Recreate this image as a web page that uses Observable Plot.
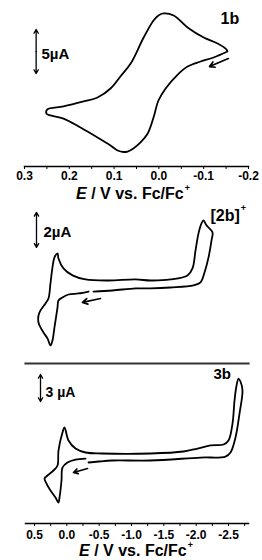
<!DOCTYPE html>
<html><head><meta charset="utf-8">
<script src="https://cdn.jsdelivr.net/npm/d3@7"></script>
<script src="https://cdn.jsdelivr.net/npm/@observablehq/plot@0.6"></script>
<style>
body{margin:0;background:#fff;}
#wrap{position:relative;width:262px;height:560px;overflow:hidden;font-family:"Liberation Sans",Arial,sans-serif;color:#000;}
.panel{position:absolute;left:0;}
.xt{position:absolute;font-weight:bold;font-size:16px;line-height:16px;white-space:nowrap;transform:translateX(-50%);}
.xt i{font-style:italic;}
.xt .sp{font-size:9px;position:relative;top:-8px;margin-left:1px;}
</style>
</head><body>
<div id="wrap"></div>
<script>
// ---- Panel 1 (1b) : E / V, I / µA ----
const E1 = [-0.153,-0.122,-0.093,-0.064,-0.042,-0.015,0.001,0.012,0.025,0.041,0.057,0.070,0.079,0.092,0.108,0.137,0.175,0.213,0.242,0.251,0.249,0.213,0.168,0.137,0.108,0.086,0.063,0.034,0.012,0.001,-0.010,-0.033,-0.064,-0.100,-0.131,-0.151,-0.153];
const I1 = [5.57,4.89,4.43,3.86,2.95,1.36,0,-1.93,-3.75,-4.77,-5.45,-5.80,-5.85,-5.68,-5.11,-4.20,-3.07,-2.05,-1.70,-1.48,-1.02,-0.68,-0.11,0.34,1.36,2.73,4.20,7.16,9.09,9.66,9.89,9.66,8.30,7.16,6.48,5.80,5.57];
// ---- Panel 2 ([2b]+) ----
const E2 = [-0.412,-0.706,-1.062,-1.294,-1.603,-1.959,-2.067,-2.129,-2.191,-2.237,-2.252,-2.160,-2.113,-2.082,-2.036,-1.990,-1.943,-1.866,-1.603,-1.294,-1.062,-0.644,-0.289,-0.088,0.052,0.129,0.144,0.191,0.222,0.253,0.284,0.330,0.407,0.438,0.438,0.407,0.361,0.299,0.253,0.222,0.191,0.144,0.129,0.067,-0.026,-0.180,-0.335];
const I2 = [0.51,0.57,0.69,0.69,0.74,0.86,1.03,1.60,2.46,3.43,3.89,4.29,4.57,4.40,3.83,2.86,1.83,1.43,1.20,1.14,1.20,1.14,1.20,1.43,1.83,2.40,2.69,2.46,1.89,0.97,0.11,-0.17,-0.57,-0.86,-1.26,-1.54,-1.83,-2.17,-2.57,-2.29,-1.54,-0.40,0,0.17,0.34,0.40,0.51];
// ---- Panel 3 (3b) ----
const E3 = [-0.335,-0.490,-0.706,-1.294,-2.067,-2.453,-2.531,-2.608,-2.670,-2.716,-2.685,-2.655,-2.624,-2.593,-2.562,-2.500,-2.423,-2.222,-2.020,-1.804,-1.294,-0.551,-0.289,-0.134,-0.026,0.036,0.067,0.129,0.144,0.206,0.299,0.345,0.314,0.253,0.175,0.129,0.113,0.082,0.067,-0.010,-0.134,-0.289];
const I3 = [-0.22,-0.11,0,0,0.33,0.44,0.89,2.56,5.22,7.78,8.78,9.11,8.33,6.67,4.11,2.22,1.78,1.67,1.33,1.0,0.78,0.78,0.89,1.33,2.22,3.67,3.11,1.11,-0.56,-1.11,-1.67,-2.0,-2.56,-3.33,-4.11,-4.67,-4.11,-2.22,-0.78,-0.22,0.11,0.22];

// tick values
const ticks1 = [0.3,0.2,0.1,0.0,-0.1,-0.2];
const minor1 = [0.25,0.15,0.05,-0.05,-0.15];
const ticks3 = [0.5,0.0,-0.5,-1.0,-1.5,-2.0,-2.5];
const minor3 = [0.25,-0.25,-0.75,-1.25,-1.75,-2.25,-2.75];

// scan-direction arrows [E tail, I tail, E head, I head]
const dir1 = [-0.155,4.77,-0.113,3.86];
const dir2 = [-0.521,0.11,-0.242,-0.11];
const dir3 = [-0.320,-0.89,-0.103,-1.33];
// current scale bars [E, I low, I high]
const bar1 = [0.274,3.07,8.07];
const bar2 = [0.469,3.03,5.03];
const bar3 = [0.407,6.56,9.56];
// labels
const lab1 = [{x:0.262,y:5.23,t:"5µA",s:15},{x:-0.1375,y:9.32,t:"1b",s:16}];
const lab2 = [{x:0.361,y:3.89,t:"2µA",s:15},{x:-2.222,y:4.86,t:"[2b]",s:16},{x:-2.69,y:5.25,t:"+",s:9}];
const lab3 = [{x:0.330,y:7.56,t:"3 µA",s:14},{x:-2.268,y:9.56,t:"3b",s:15}];

const FONT = '"Liberation Sans", Arial, sans-serif';
const toRows = (E, I) => E.map((e, i) => ({E: e, I: I[i]}));

function cvMarks(rows, dir, bar, labs) {
  const mid = (bar[1] + bar[2]) / 2;
  return [
    Plot.line(rows, {x: "E", y: "I", curve: "catmull-rom", stroke: "#000", strokeWidth: 1.8}),
    Plot.arrow([dir], {x1: d => d[0], y1: d => d[1], x2: d => d[2], y2: d => d[3], stroke: "#000", strokeWidth: 1.7, headLength: 5}),
    Plot.arrow([bar, bar], {x1: d => d[0], y1: () => mid, x2: d => d[0], y2: (d, i) => i === 0 ? d[1] : d[2], stroke: "#000", strokeWidth: 1.3, headLength: 5}),
    Plot.text(labs, {x: "x", y: "y", text: "t", fontSize: d => d.s, textAnchor: "start", fontWeight: "bold", fill: "#000"})
  ];
}

const common = {
  width: 262, marginLeft: 24, marginRight: 14,
  style: {fontFamily: FONT, fontSize: "12px", fontWeight: "bold", background: "transparent", overflow: "visible", color: "#000"}
};

const p1 = Plot.plot({
  ...common, height: 182, marginTop: 0, marginBottom: 16,
  x: {domain: [0.3, -0.2]},
  y: {axis: null, domain: [-7.5, 11.364]},
  marks: [
    Plot.frame({anchor: "bottom", stroke: "#000", strokeWidth: 1.5}),
    Plot.axisX(minor1, {tickSize: 3, tickFormat: () => "", label: null, stroke: "#000"}),
    Plot.axisX(ticks1, {tickSize: 3, tickPadding: 2, tickFormat: d => d.toFixed(1), label: null, stroke: "#000"}),
    ...cvMarks(toRows(E1, I1), dir1, bar1, lab1)
  ]
});

const p2 = Plot.plot({
  ...common, height: 160, marginTop: 0, marginBottom: 0, marginLeft: 25,
  x: {axis: null, domain: [0.639, -2.809]},
  y: {axis: null, domain: [-3.43, 5.71]},
  marks: cvMarks(toRows(E2, I2), dir2, bar2, lab2)
});

const p3 = Plot.plot({
  ...common, height: 182, marginTop: 3, marginBottom: 19, marginLeft: 25,
  x: {domain: [0.639, -2.809]},
  y: {axis: null, domain: [-7.0, 10.78]},
  marks: [
    Plot.frame({anchor: "top", stroke: "#333", strokeWidth: 2.2}),
    Plot.frame({anchor: "bottom", stroke: "#000", strokeWidth: 1.5}),
    Plot.axisX(minor3, {tickSize: 3, tickFormat: () => "", label: null, stroke: "#000"}),
    Plot.axisX(ticks3, {tickSize: 3, tickPadding: 3.5, tickFormat: d => d.toFixed(1), label: null, stroke: "#000"}),
    ...cvMarks(toRows(E3, I3), dir3, bar3, lab3)
  ]
});

const wrap = document.getElementById("wrap");
function place(el, top) { el.classList.add("panel"); el.style.top = top + "px"; wrap.appendChild(el); }
place(p1, 0); place(p2, 200); place(p3, 360);

function title(cx, top) {
  const d = document.createElement("div");
  d.className = "xt";
  d.style.left = cx + "px"; d.style.top = top + "px";
  d.innerHTML = '<i>E</i> / V vs. Fc/Fc<span class="sp">+</span>';
  wrap.appendChild(d);
}
title(133, 186);
title(136, 543);
</script>
</body></html>
